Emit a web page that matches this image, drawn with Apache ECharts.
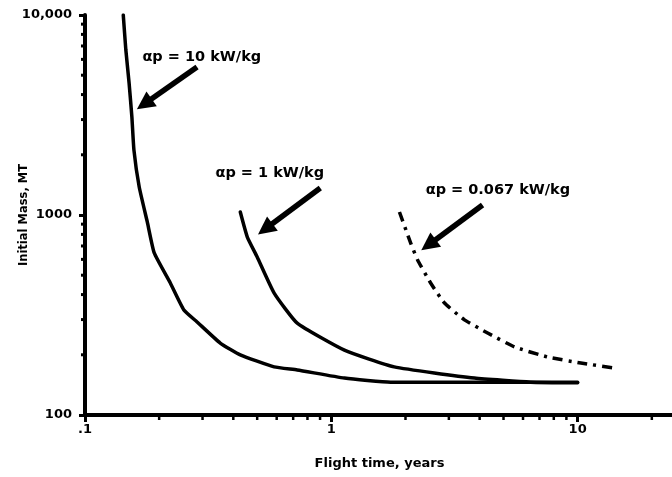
<!DOCTYPE html>
<html>
<head>
<meta charset="utf-8">
<script src="https://cdn.jsdelivr.net/npm/echarts@6/dist/echarts.min.js"></script>
<style>
  html, body { margin: 0; padding: 0; background: #fff; }
  #chart { width: 672px; height: 477px; }
</style>
</head>
<body>
<div id="chart"></div>
<script>
// curves (flight time in years, initial mass in MT)
const time10 = [0.143, 0.1465, 0.151, 0.155, 0.158, 0.166, 0.179, 0.191, 0.222, 0.252, 0.285, 0.354, 0.427, 0.586, 0.727, 1.13, 1.74, 10];
const mass10 = [10000, 6680, 4570, 3090, 2110, 1380, 923, 646, 457, 335, 292, 229, 200, 174, 168, 153, 146, 146];

const time1 = [0.427, 0.456, 0.5, 0.586, 0.727, 1.13, 1.8, 3.81, 6.44, 10];
const mass1 = [1035, 776, 617, 407, 288, 211, 174, 153, 146, 145];

const time067 = [1.89, 2.1, 2.24, 2.53, 2.88, 3.47, 4.31, 5.54, 7.55, 10.3, 13.9];
const mass067 = [1035, 724, 596, 457, 363, 299, 257, 219, 195, 182, 172];

// tick values and their labels
const timeTicks = [0.1, 1, 10];
const timeTickLabels = ['.1', '1', '10'];
const massTicks = [100, 1000, 10000];
const massTickLabels = ['100', '1000', '10,000'];
const timeMinorTicks = [0.2, 0.3, 0.4, 0.5, 0.6, 0.7, 0.8, 0.9, 2, 3, 4, 5, 6, 7, 8, 9, 20, 30, 40, 50, 60, 70, 80, 90];
const massMinorTicks = [200, 300, 400, 500, 600, 700, 800, 900, 2000, 3000, 4000, 5000, 6000, 7000, 8000, 9000];

// annotations: label anchor and arrow (tail -> head) in data units
const noteTexts = ['αp = 10 kW/kg', 'αp = 1 kW/kg', 'αp = 0.067 kW/kg'];
const noteAnchors = [[0.1706, 6166], [0.3377, 1622], [2.41, 1334]];
const arrowTails = [[0.285, 5495], [0.902, 1365], [4.11, 1122]];
const arrowHeads = [[0.174, 3590], [0.539, 851], [2.48, 708]];

const zip = (xs, ys) => xs.map((x, i) => [x, ys[i]]);

function tickLabel(values, labels) {
  return function(value) {
    for(let i = 0; i < values.length; i++) {
      if(Math.abs(value - values[i]) / values[i] < 1e-6) {
        return labels[i];
      }
    }
    return '';
  };
}

const ink = '#000';
const boldFont = { color: ink, fontFamily: 'DejaVu Sans', fontWeight: 'bold' };

const curveStyle = { color: ink, width: 3.5, cap: 'round', join: 'round' };

const chart = echarts.init(document.getElementById('chart'), null, { renderer: 'canvas' });

chart.setOption({
  animation: false,
  backgroundColor: '#fff',
  grid: {
    left: 85,
    top: 15,
    bottom: 62,
    right: -152,
    containLabel: false,
    outerBoundsMode: 'none',
  },
  xAxis: {
    type: 'log',
    logBase: 10,
    min: 0.1,
    max: 100,
    name: 'Flight time, years',
    nameLocation: 'middle',
    nameGap: 42,
    nameMoveOverlap: false,
    // the axis runs past the right edge, so pull the title back to the visible middle
    nameTextStyle: Object.assign({}, boldFont, { fontSize: 13, padding: [0, 150, 0, 0] }),
    axisLine: { lineStyle: { color: ink, width: 4 } },
    axisTick: { length: 7, lineStyle: { color: ink, width: 3 } },
    axisLabel: Object.assign({}, boldFont, {
      fontSize: 13,
      margin: 8,
      formatter: tickLabel(timeTicks, timeTickLabels),
    }),
    splitLine: { show: false },
  },
  yAxis: {
    type: 'log',
    logBase: 10,
    min: 100,
    max: 10000,
    name: 'Initial Mass, MT',
    nameLocation: 'middle',
    nameGap: 55,
    nameMoveOverlap: false,
    nameTextStyle: Object.assign({}, boldFont, { fontSize: 11.5 }),
    axisLine: { lineStyle: { color: ink, width: 4 } },
    axisTick: { length: 6, lineStyle: { color: ink, width: 3 } },
    axisLabel: Object.assign({}, boldFont, {
      fontSize: 13,
      margin: 13,
      formatter: tickLabel(massTicks, massTickLabels),
    }),
    splitLine: { show: false },
  },
  series: [
    {
      name: 'αp = 10 kW/kg',
      type: 'line',
      data: zip(time10, mass10),
      showSymbol: false,
      smooth: 0.15,
      lineStyle: curveStyle,
    },
    {
      name: 'αp = 1 kW/kg',
      type: 'line',
      data: zip(time1, mass1),
      showSymbol: false,
      smooth: 0.15,
      lineStyle: curveStyle,
    },
    {
      name: 'αp = 0.067 kW/kg',
      type: 'line',
      data: zip(time067, mass067),
      showSymbol: false,
      smooth: 0.15,
      lineStyle: Object.assign({}, curveStyle, { type: [10, 6, 3, 6], cap: 'butt' }),
    },
    {
      // annotation texts and arrows
      name: 'notes',
      type: 'scatter',
      data: noteAnchors.map((p, i) => [p[0], p[1], noteTexts[i]]),
      symbolSize: 0.5,
      itemStyle: { color: ink, opacity: 1 },
      label: Object.assign({}, boldFont, {
        show: true,
        fontSize: 14.5,
        opacity: 1,
        position: 'right',
        distance: 0,
        formatter: (p) => p.value[2],
      }),
      silent: true,
      markLine: {
        silent: true,
        symbol: ['none', 'triangle'],
        symbolSize: 18,
        label: { show: false },
        lineStyle: { color: ink, width: 5.5, type: 'solid', opacity: 1 },
        itemStyle: { color: ink },
        emphasis: { disabled: true },
        data: arrowTails.map((t, i) => [{ coord: t }, { coord: arrowHeads[i] }]),
      },
    },
    {
      // minor ticks on the time axis
      type: 'custom',
      data: timeMinorTicks.map((v) => [v, 100]),
      silent: true,
      clip: false,
      renderItem: function(params, api) {
        let p = api.coord([api.value(0), api.value(1)]);
        return {
          type: 'line',
          shape: { x1: p[0], y1: p[1], x2: p[0], y2: p[1] + 5 },
          style: { stroke: ink, lineWidth: 2.5 },
        };
      },
    },
    {
      // minor ticks on the mass axis
      type: 'custom',
      data: massMinorTicks.map((v) => [0.1, v]),
      silent: true,
      clip: false,
      renderItem: function(params, api) {
        let p = api.coord([api.value(0), api.value(1)]);
        return {
          type: 'line',
          shape: { x1: p[0] - 4, y1: p[1], x2: p[0], y2: p[1] },
          style: { stroke: ink, lineWidth: 3 },
        };
      },
    },
  ],
});
</script>
</body>
</html>
